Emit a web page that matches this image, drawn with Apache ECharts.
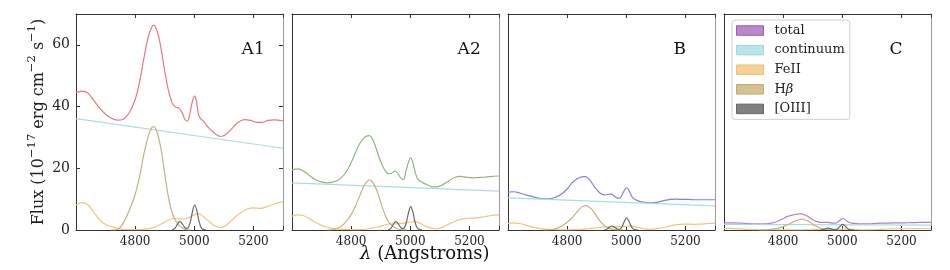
<!DOCTYPE html>
<html><head><meta charset="utf-8">
<script src="https://cdn.jsdelivr.net/npm/echarts@6/dist/echarts.min.js"></script>
<style>html,body{margin:0;padding:0;background:#fff}#c{width:950px;height:270px}</style>
</head><body><div id="c"></div>
<script>
// ---------- data (wavelength grids, Angstroms) ----------
const panels = ['A1', 'A2', 'B', 'C'];
const totWave = [4600,4620,4640,4660,4680,4700,4720,4740,4760,4780,4800,4815,4830,4845,4855,4862,4870,4880,4890,4900,4912,4925,4937,4948,4958,4968,4977,4986,4994,5001,5007,5014,5022,5032,5045,5060,5075,5090,5110,5130,5150,5170,5190,5210,5230,5250,5270,5300];
const totA1 = [44.5,45.0,44.4,42.0,39.5,37.5,36.2,35.6,35.9,38.0,42.3,48.0,55.9,62.8,65.5,66.4,65.5,62.5,57.5,51.5,45.5,41.2,39.8,39.5,38.2,35.9,35.3,38.2,41.8,43.4,42.0,37.5,36.0,35.2,33.5,32.1,30.9,30.3,31.2,33.2,35.0,35.8,35.5,34.9,34.9,35.5,35.7,35.4];
const totA2 = [19.5,19.8,19.0,17.6,16.3,15.6,15.3,15.6,16.4,18.4,21.8,25.2,28.2,30.0,30.5,30.6,29.8,27.7,24.8,22.2,19.7,18.3,18.4,19.1,18.3,16.8,16.3,19.3,22.0,23.4,22.5,19.8,17.1,15.9,15.2,14.5,14.0,14.0,14.7,15.9,17.0,17.4,17.1,16.9,17.0,17.1,17.3,17.5];
const totB  = [12.3,12.4,12.0,11.4,10.9,10.4,10.1,10.1,10.6,11.6,13.3,15.1,16.4,17.1,17.3,17.3,16.8,15.8,14.3,13.1,11.9,11.4,11.5,11.7,11.1,10.4,10.3,11.5,12.9,13.7,13.2,11.8,10.4,9.8,9.3,9.0,8.8,8.8,9.1,9.6,9.9,10.0,9.9,9.9,9.8,9.8,9.8,9.8];
const totC  = [2.3,2.3,2.3,2.2,2.1,2.0,2.0,2.0,2.2,2.75,3.7,4.4,4.8,5.1,5.2,5.2,5.0,4.6,4.0,3.3,2.8,2.5,2.5,2.5,2.4,2.2,2.2,2.7,3.3,3.8,3.6,3.0,2.5,2.2,2.1,2.0,2.0,2.0,2.1,2.2,2.2,2.3,2.3,2.3,2.4,2.4,2.5,2.5];

const contWave = [4600, 5300];
const contA1 = [36.1, 26.5];
const contA2 = [15.3, 12.6];
const contB  = [10.4, 7.8];
const contC  = [1.8, 1.6];

const feWave = [4600,4620,4640,4660,4680,4700,4720,4740,4760,4780,4800,4830,4860,4890,4910,4930,4950,4975,5000,5015,5030,5050,5070,5090,5110,5130,5155,5180,5200,5225,5250,5275,5300];
const feA1 = [8.1,8.9,8.2,5.7,3.4,1.8,1.1,0.6,0.2,0.1,0.1,0.2,0.7,2.0,3.1,3.8,3.5,3.8,4.9,5.3,4.4,2.8,1.3,0.8,1.7,3.5,5.5,6.9,7.2,7.0,7.7,8.6,9.1];
const feA2 = [4.5,4.9,4.6,3.6,2.4,1.5,0.9,0.5,0.3,0.2,0.1,0.1,0.4,1.0,1.5,2.0,2.0,2.2,2.6,2.7,2.3,1.3,0.6,0.4,1.0,1.9,2.9,3.7,3.8,3.9,4.3,4.7,4.9];
const feB  = [2.1,2.3,2.1,1.6,1.0,0.6,0.3,0.2,0.1,0.05,0.05,0.1,0.3,0.6,0.85,1.0,1.0,1.1,1.2,1.3,1.0,0.6,0.3,0.3,0.5,0.9,1.5,1.8,1.9,1.85,1.9,2.1,2.2];
const feC  = [0.45,0.5,0.45,0.35,0.2,0.12,0.07,0.04,0.02,0.01,0.01,0.02,0.06,0.12,0.18,0.22,0.2,0.22,0.27,0.3,0.25,0.15,0.07,0.05,0.1,0.2,0.32,0.4,0.42,0.4,0.43,0.48,0.5];

const hbWave = [4720,4740,4760,4780,4800,4815,4830,4845,4855,4863,4870,4880,4890,4900,4912,4925,4940,4955,4970,4990];
const hbA1 = [0,0.1,2.3,6.3,11.5,17.3,24.8,30.6,33.0,33.5,32.7,29.6,25.0,18.2,11.0,5.6,2.5,1.0,0.2,0];
const hbA2 = [0,0.1,0.8,2.4,5.0,7.8,11.3,14.6,15.8,16.2,15.8,14.3,12.0,8.9,5.6,2.9,1.2,0.4,0.1,0];
const hbB  = [0,0.05,0.4,1.2,2.5,3.8,5.5,7.1,7.7,7.9,7.7,7.0,5.9,4.4,2.8,1.5,0.6,0.2,0.05,0];
const hbC  = [0,0.02,0.2,0.5,1.1,1.7,2.4,3.1,3.4,3.5,3.4,3.1,2.6,1.9,1.2,0.65,0.25,0.08,0.02,0];

const o3Wave = [4925,4935,4943,4950,4957,4965,4973,4980,4987,4994,5001,5008,5015,5022,5030,5040];
const o3A1 = [0,0.6,1.9,2.7,2.3,1.2,0.5,0.8,2.8,6.0,8.1,6.5,3.2,1.0,0.2,0];
const o3A2 = [0,0.6,1.9,2.7,2.3,1.2,0.5,0.7,2.6,5.6,7.6,6.1,3.0,0.9,0.2,0];
const o3B  = [0,0.3,0.9,1.3,1.1,0.6,0.25,0.35,1.3,2.9,3.9,3.1,1.5,0.45,0.1,0];
const o3C  = [0,0.13,0.42,0.6,0.5,0.27,0.12,0.17,0.62,1.35,1.8,1.45,0.7,0.2,0.05,0];

const xTicks = [4800, 5000, 5200];
const yTicks = [0, 20, 40, 60];
const legendNames = ['total', 'continuum', 'FeII', 'Hβ', '[OIII]'];

// ---------- styling ----------
const FONT = 'DejaVu Serif';
const totColors = ['#e8797b', '#8db87a', '#7d7dfa', '#b37fcc'];
const compColors = {cont: '#a6dfe3', fe: '#f4c47a', hb: '#c9b07e', o3: '#6a6a6a'};
const gLeft = [76, 292, 508, 724];
const gW = 207, gTop = 14, gH = 216;

const totals = [totA1, totA2, totB, totC];
const conts = [contA1, contA2, contB, contC];
const fes = [feA1, feA2, feB, feC];
const hbs = [hbA1, hbA2, hbB, hbC];
const o3s = [o3A1, o3A2, o3B, o3C];

const pairs = (w, v) => w.map((x, i) => [x, v[i]]);

const grid = [], xAxis = [], yAxis = [], series = [], graphic = [];
panels.forEach((p, i) => {
  grid.push({left: gLeft[i], top: gTop, width: gW, height: gH, show: false});
  xAxis.push({type: 'value', gridIndex: i, min: 4600, max: 5300, interval: 200, position: 'bottom',
    axisLine: {show: true, onZero: false, lineStyle: {color: '#333', width: 1}},
    axisTick: {show: true, inside: true, length: 4, lineStyle: {color: '#333'}},
    axisLabel: {show: true, fontFamily: FONT, fontSize: 12, color: '#222', margin: 6,
      formatter: v => xTicks.includes(v) ? String(v) : ''},
    splitLine: {show: false}});
  xAxis.push({type: 'value', gridIndex: i, min: 4600, max: 5300, interval: 200, position: 'top',
    axisLine: {show: true, onZero: false, lineStyle: {color: '#333', width: 1}},
    axisTick: {show: true, inside: true, length: 4, lineStyle: {color: '#333'}},
    axisLabel: {show: false}, splitLine: {show: false}});
  const first = i === 0;
  yAxis.push({type: 'value', gridIndex: i, min: 0, max: 70, interval: 20, position: 'left',
    axisLine: {show: true, onZero: false, lineStyle: {color: '#333', width: 1}},
    axisTick: {show: first, inside: true, length: 4, lineStyle: {color: '#333'}},
    axisLabel: {show: first, fontFamily: FONT, fontSize: 14, color: '#222', margin: 6,
      formatter: v => yTicks.includes(v) ? String(v) : ''},
    splitLine: {show: false},
    name: first ? '{n|Flux (10}{s|−17}{n| erg cm}{s|−2}{n| s}{s|−1}{n|)}' : '',
    nameLocation: 'middle', nameGap: 29, nameRotate: 90,
    nameTextStyle: {fontFamily: FONT, color: '#222', rich: {
      n: {fontFamily: FONT, fontSize: 16, color: '#222', lineHeight: 21, verticalAlign: 'bottom'},
      s: {fontFamily: FONT, fontSize: 11.5, color: '#222', lineHeight: 21, verticalAlign: 'top'}}}});
  yAxis.push({type: 'value', gridIndex: i, min: 0, max: 70, interval: 20, position: 'right',
    axisLine: {show: true, onZero: false, lineStyle: {color: '#999', width: 1}},
    axisTick: {show: first, inside: true, length: 4, lineStyle: {color: '#333'}},
    axisLabel: {show: false}, splitLine: {show: false}});

  const xi = i * 2, yi = i * 2;
  const isC = i === 3;
  const mk = (name, data, color, z) => ({type: 'line', name: isC ? name : p + ' ' + name,
    xAxisIndex: xi, yAxisIndex: yi, data, smooth: 0.3, showSymbol: false, symbol: 'none',
    lineStyle: {color, width: 1.2}, itemStyle: {color}, z, animation: false});
  series.push(mk('total', pairs(totWave, totals[i]), totColors[i], 2));
  series.push(mk('continuum', pairs(contWave, conts[i]), compColors.cont, 3));
  series.push(mk('FeII', pairs(feWave, fes[i]), compColors.fe, 3));
  series.push(mk('Hβ', pairs(hbWave, hbs[i]), compColors.hb, 3));
  series.push(mk('[OIII]', pairs(o3Wave, o3s[i]), compColors.o3, 3));

  graphic.push({type: 'text', left: gLeft[i] + 0.8 * gW, top: 41,
    style: {text: p, font: '17px "DejaVu Serif"', fill: '#111'}});
});

graphic.push({type: 'text', left: 360, top: 245,
  style: {text: '{i|λ} (Angstroms)', font: '18px "DejaVu Serif"', fill: '#111',
    rich: {i: {fontStyle: 'italic', fontFamily: FONT, fontSize: 18}}}});

const legendColors = {
  'total': ['#bb88cc', '#9c5cb3'],
  'continuum': ['#b8e5e8', '#9fd8dc'],
  'FeII': ['#f6d196', '#eebf70'],
  'Hβ': ['#d5c290', '#c2aa72'],
  '[OIII]': ['#808080', '#666666']
};

const chart = echarts.init(document.getElementById('c'), null, {renderer: 'canvas'});
chart.setOption({
  animation: false,
  grid, xAxis, yAxis, series, graphic,
  legend: {
    orient: 'vertical', left: 732, top: 20, icon: 'rect', itemWidth: 27, itemHeight: 9.5, itemGap: 4.6,
    padding: [3, 5, 3, 4], borderColor: '#d0d0d0', borderWidth: 1, borderRadius: 3,
    backgroundColor: 'rgba(255,255,255,0.9)', selectedMode: false,
    textStyle: {fontFamily: FONT, fontSize: 13, color: '#222', lineHeight: 15, padding: [0, 0, 0, 6],
      rich: {i: {fontStyle: 'italic', fontFamily: FONT, fontSize: 13, lineHeight: 15}}},
    formatter: n => n === 'Hβ' ? 'H{i|β}' : n,
    data: legendNames.map(n => ({name: n, icon: 'rect',
      itemStyle: {color: legendColors[n][0], borderColor: legendColors[n][1], borderWidth: 1}}))
  }
});
</script></body></html>
